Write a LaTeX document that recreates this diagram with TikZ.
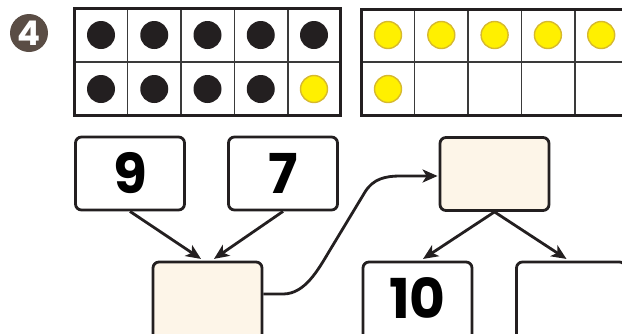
\documentclass[tikz,border=0pt]{standalone}
\usepackage{fontspec}
\setmainfont{Poppins}
\usetikzlibrary{arrows.meta}
\definecolor{ink}{HTML}{231F20}
\definecolor{beige}{HTML}{FDF5E8}
\definecolor{dotyellow}{HTML}{FFF000}
\definecolor{dotedge}{HTML}{D6B92E}
\definecolor{badgecol}{HTML}{5A4D45}
\definecolor{gridline}{HTML}{3A3A3A}
\begin{document}
\begin{tikzpicture}[x=1pt,y=-1pt,
  numbox/.style={draw=ink,line width=2.8pt,rounded corners=6pt,minimum width=109pt,minimum height=73pt,inner sep=0pt,fill=white,font=\fontsize{55}{55}\selectfont\bfseries},
  lowbox/.style={numbox,minimum height=78pt,text height=39pt,text depth=5pt},
  emptybox/.style={fill=beige},
  conn/.style={draw=ink,line width=2.8pt,-{Stealth[length=15pt,width=13pt,inset=4pt]}},
  outerframe/.style={draw=ink,line width=3pt},
  innerline/.style={draw=gridline,line width=1.6pt},
  blackdot/.style={fill=ink},
  yellowdot/.style={fill=dotyellow,draw=dotedge,line width=1.4pt}]
\useasboundingbox (0,0) rectangle (622,333);
\clip (0,0) rectangle (622,333);
% badge
\node[circle,fill=badgecol,minimum size=38pt,inner sep=0pt,text=white,font=\fontsize{34}{34}\selectfont\bfseries] (badge) at (29,33) {4};
% left ten frame
\foreach \x in {127.5,181,234.5,288} \draw[innerline] (\x,8.5) -- (\x,115.5);
\draw[innerline] (74.5,62) -- (340.5,62);
\draw[outerframe] (74.5,8.5) rectangle (340.5,115.5);
\foreach \i in {0,...,4} \fill[blackdot] (101+53.25*\i,35) circle (14pt);
\foreach \i in {0,...,3} \fill[blackdot] (101+53.25*\i,89) circle (14pt);
\draw[yellowdot] (314,89) circle (13.5pt);
% right ten frame
\foreach \x in {414.5,468,521.5,575} \draw[innerline] (\x,9) -- (\x,115);
\draw[innerline] (361,62) -- (640,62);
\draw[outerframe] (361,9) rectangle (640,115);
\foreach \i in {0,...,4} \draw[yellowdot] (388+53.3*\i,35) circle (13.5pt);
\draw[yellowdot] (388,89) circle (13.5pt);
% boxes
\node[numbox] (n9) at (130,173.5) {9};
\node[numbox] (n7) at (283,173.5) {7};
\node[numbox,emptybox] (tr) at (494.5,174) {};
\node[lowbox,emptybox] (bl) at (207.5,301) {};
\node[lowbox] (n10) at (417.5,301) {10};
\node[lowbox] (br) at (571,301) {};
% connectors
\draw[conn,shorten >=3pt] (n9.south) -- ([xshift=-4pt]bl.north);
\draw[conn,shorten >=3pt] (n7.south) -- ([xshift=4pt]bl.north);
\draw[conn,shorten >=3pt] (tr.south) -- ([xshift=3pt]n10.north);
\draw[conn,shorten >=3pt] (tr.south) -- ([xshift=-2pt]br.north);
\draw[conn,shorten >=1pt] (bl.east |- 0,294) -- (283,294) .. controls (305,294) and (318,270) .. (330,250) -- (365,192) .. controls (373,179) and (385,176) .. (400,176) -- (tr.west |- 0,176);
\end{tikzpicture}
\end{document}
